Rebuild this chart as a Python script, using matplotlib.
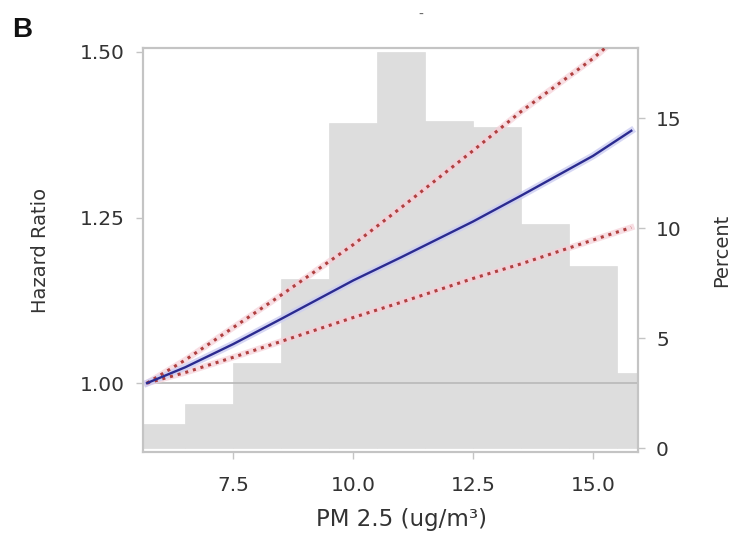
import matplotlib
matplotlib.use('Agg')
import matplotlib.pyplot as plt

# ── Data ──────────────────────────────────────────────
# histogram of PM2.5 exposure (percent of cohort per 1 ug/m3 bin)
bin_left = [5.5, 6.5, 7.5, 8.5, 9.5, 10.5, 11.5, 12.5, 13.5, 14.5, 15.5]
pct      = [1.1, 2.0, 3.85, 7.7, 14.8, 18.0, 14.9, 14.6, 10.2, 8.3, 3.4]

# hazard ratio curve and 95% CI
pm       = [5.7, 6.5, 7.5, 8.5, 10.0, 11.0, 12.5, 13.5, 15.0, 15.8]
hr       = [1.000, 1.024, 1.059, 1.097, 1.155, 1.190, 1.244, 1.283, 1.343, 1.381]
hr_upper = [1.000, 1.035, 1.084, 1.133, 1.209, 1.265, 1.351, 1.410, 1.490, 1.540]
hr_lower = [1.000, 1.016, 1.039, 1.063, 1.099, 1.122, 1.158, 1.180, 1.216, 1.235]

xticks  = [7.5, 10.0, 12.5, 15.0]
hrticks = [1.00, 1.25, 1.50]
pticks  = [0, 5, 10, 15]

plt.rcParams['font.family'] = ['DejaVu Sans']
GREY = '#c4c4c4'
TXT  = '#333333'

fig = plt.figure(figsize=(7.38, 5.33), dpi=100)
ax = fig.add_axes([0.194, 0.152, 0.6705, 0.758])
ax2 = ax.twinx()
ax.set_zorder(ax2.get_zorder() + 1)
ax.patch.set_visible(False)

# ── Histogram (right axis) ────────────────────────────
ax2.bar(bin_left, pct, width=1.0, align='edge', color='#dddddd',
        edgecolor='#dddddd', linewidth=0.5)
ax2.set_ylim(-0.18, 18.2)
ax2.set_yticks(pticks)
ax2.set_yticklabels([str(t) for t in pticks])
ax2.set_ylabel('Percent', fontsize=14, color=TXT, labelpad=22)

# ── Hazard ratio (left axis) ──────────────────────────
ax.axhline(1.0, color='#b8b8b8', lw=1.2, zorder=1)
for lo in (hr_upper, hr_lower):
    ax.plot(pm, lo, color='#f6d0d8', lw=4.5, alpha=0.7, zorder=2)
    ax.plot(pm, lo, color='#b04040', lw=2.2, ls=(0, (1, 1.6)), zorder=3)
ax.plot(pm, hr, color='#cccdf2', lw=5, alpha=0.8, zorder=2)
ax.plot(pm, hr, color='#2b2b90', lw=1.7, zorder=4)

ax.set_xlim(5.62, 15.94)
ax.set_ylim(0.896, 1.506)
ax.set_xticks(xticks)
ax.set_xticklabels([f'{t:.1f}' for t in xticks])
ax.set_yticks(hrticks)
ax.set_yticklabels([f'{t:.2f}' for t in hrticks])
ax.set_ylabel('Hazard Ratio', fontsize=14, color=TXT, labelpad=22)
ax.set_xlabel('PM 2.5 (ug/m\u00b3)', fontsize=16.5, color=TXT)
ax.xaxis.set_label_coords(0.523, -0.138)

for a in (ax, ax2):
    for s in a.spines.values():
        s.set_color(GREY)
        s.set_linewidth(1.5)
    a.tick_params(colors=GREY, labelcolor=TXT, labelsize=14.5, length=5,
                  width=1, pad=8)
ax.tick_params(axis='x', pad=12)

fig.text(0.016, 0.931, 'B', fontsize=20, fontweight='bold', color='#111111',
         family='Liberation Sans')
fig.text(0.57, 0.965, '-', fontsize=10, color='#666666', ha='center')

plt.savefig('out.png', dpi=100)
plt.close()
